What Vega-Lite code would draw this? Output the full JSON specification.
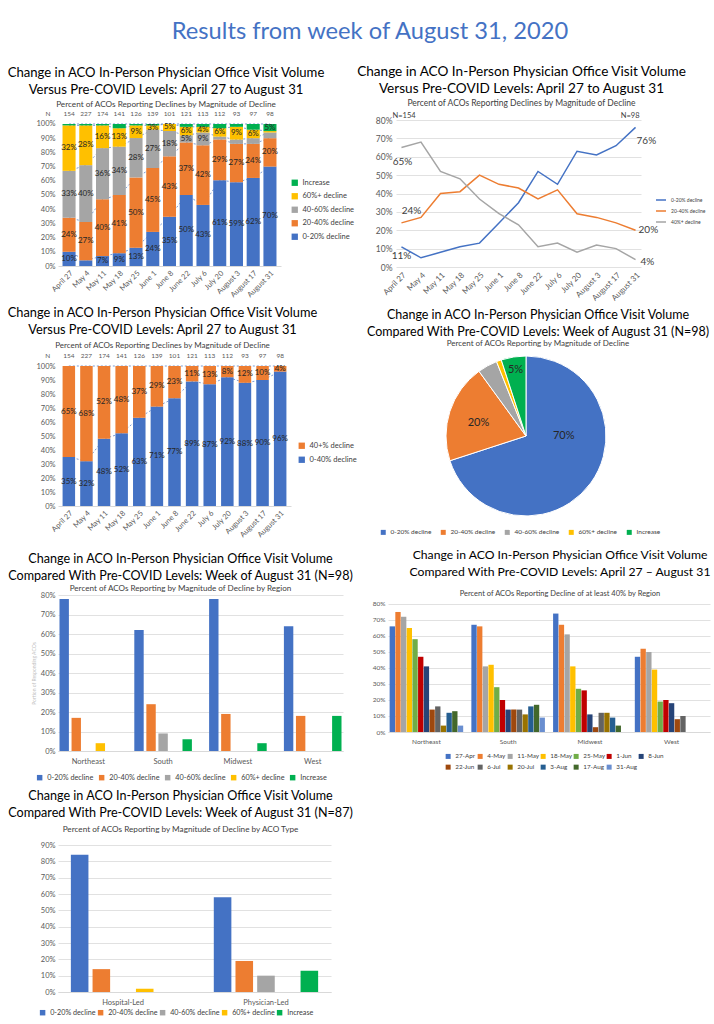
{
"$schema": "https://vega.github.io/schema/vega-lite/v6.json",
"padding": {"left": 7, "top": 19, "right": 0, "bottom": 0},
"background": "white",
"title": {"text": "Results from week of August 31, 2020", "fontSize": 23.7, "color": "#4472C4", "font": "Lato", "fontWeight": "normal", "anchor": "middle", "frame": "bounds", "offset": 21, "dx": 11, "lineHeight": 26},
"datasets": {
"w5": [
{"week":"April 27","cat":"0-20% decline","v":10},{"week":"April 27","cat":"20-40% decline","v":24},{"week":"April 27","cat":"40-60% decline","v":33},{"week":"April 27","cat":"60%+ decline","v":32},{"week":"April 27","cat":"Increase","v":1},
{"week":"May 4","cat":"0-20% decline","v":4},{"week":"May 4","cat":"20-40% decline","v":27},{"week":"May 4","cat":"40-60% decline","v":40},{"week":"May 4","cat":"60%+ decline","v":28},{"week":"May 4","cat":"Increase","v":1},
{"week":"May 11","cat":"0-20% decline","v":7},{"week":"May 11","cat":"20-40% decline","v":40},{"week":"May 11","cat":"40-60% decline","v":36},{"week":"May 11","cat":"60%+ decline","v":16},{"week":"May 11","cat":"Increase","v":1},
{"week":"May 18","cat":"0-20% decline","v":9},{"week":"May 18","cat":"20-40% decline","v":41},{"week":"May 18","cat":"40-60% decline","v":34},{"week":"May 18","cat":"60%+ decline","v":13},{"week":"May 18","cat":"Increase","v":3},
{"week":"May 25","cat":"0-20% decline","v":13},{"week":"May 25","cat":"20-40% decline","v":50},{"week":"May 25","cat":"40-60% decline","v":28},{"week":"May 25","cat":"60%+ decline","v":9},{"week":"May 25","cat":"Increase","v":1},
{"week":"June 1","cat":"0-20% decline","v":24},{"week":"June 1","cat":"20-40% decline","v":45},{"week":"June 1","cat":"40-60% decline","v":27},{"week":"June 1","cat":"60%+ decline","v":3},{"week":"June 1","cat":"Increase","v":1},
{"week":"June 8","cat":"0-20% decline","v":35},{"week":"June 8","cat":"20-40% decline","v":43},{"week":"June 8","cat":"40-60% decline","v":18},{"week":"June 8","cat":"60%+ decline","v":5},{"week":"June 8","cat":"Increase","v":0},
{"week":"June 22","cat":"0-20% decline","v":50},{"week":"June 22","cat":"20-40% decline","v":37},{"week":"June 22","cat":"40-60% decline","v":5},{"week":"June 22","cat":"60%+ decline","v":6},{"week":"June 22","cat":"Increase","v":2},
{"week":"July 6","cat":"0-20% decline","v":43},{"week":"July 6","cat":"20-40% decline","v":42},{"week":"July 6","cat":"40-60% decline","v":9},{"week":"July 6","cat":"60%+ decline","v":4},{"week":"July 6","cat":"Increase","v":2},
{"week":"July 20","cat":"0-20% decline","v":61},{"week":"July 20","cat":"20-40% decline","v":29},{"week":"July 20","cat":"40-60% decline","v":2},{"week":"July 20","cat":"60%+ decline","v":6},{"week":"July 20","cat":"Increase","v":3},
{"week":"August 3","cat":"0-20% decline","v":59},{"week":"August 3","cat":"20-40% decline","v":27},{"week":"August 3","cat":"40-60% decline","v":3},{"week":"August 3","cat":"60%+ decline","v":9},{"week":"August 3","cat":"Increase","v":2},
{"week":"August 17","cat":"0-20% decline","v":62},{"week":"August 17","cat":"20-40% decline","v":24},{"week":"August 17","cat":"40-60% decline","v":4},{"week":"August 17","cat":"60%+ decline","v":6},{"week":"August 17","cat":"Increase","v":4},
{"week":"August 31","cat":"0-20% decline","v":70},{"week":"August 31","cat":"20-40% decline","v":20},{"week":"August 31","cat":"40-60% decline","v":4},{"week":"August 31","cat":"60%+ decline","v":1},{"week":"August 31","cat":"Increase","v":5}
],
"n13": [
{"week":"April 27","n":154},{"week":"May 4","n":227},{"week":"May 11","n":174},{"week":"May 18","n":141},{"week":"May 25","n":126},{"week":"June 1","n":139},{"week":"June 8","n":101},{"week":"June 22","n":121},{"week":"July 6","n":113},{"week":"July 20","n":112},{"week":"August 3","n":93},{"week":"August 17","n":97},{"week":"August 31","n":98}
],
"trend": [
{"week":"April 27","s":"0-20% decline","v":11},{"week":"May 4","s":"0-20% decline","v":5},{"week":"May 11","s":"0-20% decline","v":8},{"week":"May 18","s":"0-20% decline","v":11},{"week":"May 25","s":"0-20% decline","v":13},{"week":"June 1","s":"0-20% decline","v":24},{"week":"June 8","s":"0-20% decline","v":35},{"week":"June 22","s":"0-20% decline","v":52},{"week":"July 6","s":"0-20% decline","v":45},{"week":"July 20","s":"0-20% decline","v":63},{"week":"August 3","s":"0-20% decline","v":61},{"week":"August 17","s":"0-20% decline","v":66},{"week":"August 31","s":"0-20% decline","v":76},
{"week":"April 27","s":"20-40% decline","v":24},{"week":"May 4","s":"20-40% decline","v":27},{"week":"May 11","s":"20-40% decline","v":40},{"week":"May 18","s":"20-40% decline","v":41},{"week":"May 25","s":"20-40% decline","v":50},{"week":"June 1","s":"20-40% decline","v":45},{"week":"June 8","s":"20-40% decline","v":43},{"week":"June 22","s":"20-40% decline","v":37},{"week":"July 6","s":"20-40% decline","v":42},{"week":"July 20","s":"20-40% decline","v":29},{"week":"August 3","s":"20-40% decline","v":27},{"week":"August 17","s":"20-40% decline","v":24},{"week":"August 31","s":"20-40% decline","v":20},
{"week":"April 27","s":"40%+ decline","v":65},{"week":"May 4","s":"40%+ decline","v":68},{"week":"May 11","s":"40%+ decline","v":52},{"week":"May 18","s":"40%+ decline","v":48},{"week":"May 25","s":"40%+ decline","v":37},{"week":"June 1","s":"40%+ decline","v":29},{"week":"June 8","s":"40%+ decline","v":23},{"week":"June 22","s":"40%+ decline","v":11},{"week":"July 6","s":"40%+ decline","v":13},{"week":"July 20","s":"40%+ decline","v":8},{"week":"August 3","s":"40%+ decline","v":12},{"week":"August 17","s":"40%+ decline","v":10},{"week":"August 31","s":"40%+ decline","v":4}
],
"w2": [
{"week":"April 27","cat":"0-40% decline","v":35},{"week":"April 27","cat":"40+% decline","v":65},
{"week":"May 4","cat":"0-40% decline","v":32},{"week":"May 4","cat":"40+% decline","v":68},
{"week":"May 11","cat":"0-40% decline","v":48},{"week":"May 11","cat":"40+% decline","v":52},
{"week":"May 18","cat":"0-40% decline","v":52},{"week":"May 18","cat":"40+% decline","v":48},
{"week":"May 25","cat":"0-40% decline","v":63},{"week":"May 25","cat":"40+% decline","v":37},
{"week":"June 1","cat":"0-40% decline","v":71},{"week":"June 1","cat":"40+% decline","v":29},
{"week":"June 8","cat":"0-40% decline","v":77},{"week":"June 8","cat":"40+% decline","v":23},
{"week":"June 22","cat":"0-40% decline","v":89},{"week":"June 22","cat":"40+% decline","v":11},
{"week":"July 6","cat":"0-40% decline","v":87},{"week":"July 6","cat":"40+% decline","v":13},
{"week":"July 20","cat":"0-40% decline","v":92},{"week":"July 20","cat":"40+% decline","v":8},
{"week":"August 3","cat":"0-40% decline","v":88},{"week":"August 3","cat":"40+% decline","v":12},
{"week":"August 17","cat":"0-40% decline","v":90},{"week":"August 17","cat":"40+% decline","v":10},
{"week":"August 31","cat":"0-40% decline","v":96},{"week":"August 31","cat":"40+% decline","v":4}
],
"pie": [
{"cat":"0-20% decline","v":70},{"cat":"20-40% decline","v":20},{"cat":"40-60% decline","v":4},{"cat":"60%+ decline","v":1},{"cat":"Increase","v":5}
],
"region": [
{"region":"Northeast","cat":"0-20% decline","v":78},{"region":"Northeast","cat":"20-40% decline","v":17},{"region":"Northeast","cat":"40-60% decline","v":0},{"region":"Northeast","cat":"60%+ decline","v":4},{"region":"Northeast","cat":"Increase","v":0},
{"region":"South","cat":"0-20% decline","v":62},{"region":"South","cat":"20-40% decline","v":24},{"region":"South","cat":"40-60% decline","v":9},{"region":"South","cat":"60%+ decline","v":0},{"region":"South","cat":"Increase","v":6},
{"region":"Midwest","cat":"0-20% decline","v":78},{"region":"Midwest","cat":"20-40% decline","v":19},{"region":"Midwest","cat":"40-60% decline","v":0},{"region":"Midwest","cat":"60%+ decline","v":0},{"region":"Midwest","cat":"Increase","v":4},
{"region":"West","cat":"0-20% decline","v":64},{"region":"West","cat":"20-40% decline","v":18},{"region":"West","cat":"40-60% decline","v":0},{"region":"West","cat":"60%+ decline","v":0},{"region":"West","cat":"Increase","v":18}
],
"regweek": [
{"region":"Northeast","week":"27-Apr","v":66},{"region":"Northeast","week":"4-May","v":75},{"region":"Northeast","week":"11-May","v":72},{"region":"Northeast","week":"18-May","v":65},{"region":"Northeast","week":"25-May","v":58},{"region":"Northeast","week":"1-Jun","v":47},{"region":"Northeast","week":"8-Jun","v":41},{"region":"Northeast","week":"22-Jun","v":14},{"region":"Northeast","week":"6-Jul","v":16},{"region":"Northeast","week":"20-Jul","v":4},{"region":"Northeast","week":"3-Aug","v":12},{"region":"Northeast","week":"17-Aug","v":13},{"region":"Northeast","week":"31-Aug","v":4},
{"region":"South","week":"27-Apr","v":67},{"region":"South","week":"4-May","v":66},{"region":"South","week":"11-May","v":41},{"region":"South","week":"18-May","v":42},{"region":"South","week":"25-May","v":28},{"region":"South","week":"1-Jun","v":20},{"region":"South","week":"8-Jun","v":14},{"region":"South","week":"22-Jun","v":14},{"region":"South","week":"6-Jul","v":14},{"region":"South","week":"20-Jul","v":11},{"region":"South","week":"3-Aug","v":16},{"region":"South","week":"17-Aug","v":17},{"region":"South","week":"31-Aug","v":9},
{"region":"Midwest","week":"27-Apr","v":74},{"region":"Midwest","week":"4-May","v":67},{"region":"Midwest","week":"11-May","v":61},{"region":"Midwest","week":"18-May","v":41},{"region":"Midwest","week":"25-May","v":27},{"region":"Midwest","week":"1-Jun","v":26},{"region":"Midwest","week":"8-Jun","v":11},{"region":"Midwest","week":"22-Jun","v":3},{"region":"Midwest","week":"6-Jul","v":12},{"region":"Midwest","week":"20-Jul","v":12},{"region":"Midwest","week":"3-Aug","v":9},{"region":"Midwest","week":"17-Aug","v":4},{"region":"Midwest","week":"31-Aug","v":0},
{"region":"West","week":"27-Apr","v":47},{"region":"West","week":"4-May","v":52},{"region":"West","week":"11-May","v":50},{"region":"West","week":"18-May","v":39},{"region":"West","week":"25-May","v":19},{"region":"West","week":"1-Jun","v":20},{"region":"West","week":"8-Jun","v":18},{"region":"West","week":"22-Jun","v":8},{"region":"West","week":"6-Jul","v":10}
],
"acotype": [
{"type":"Hospital-Led","cat":"0-20% decline","v":84},{"type":"Hospital-Led","cat":"20-40% decline","v":14},{"type":"Hospital-Led","cat":"40-60% decline","v":0},{"type":"Hospital-Led","cat":"60%+ decline","v":2},{"type":"Hospital-Led","cat":"Increase","v":0},
{"type":"Physician-Led","cat":"0-20% decline","v":58},{"type":"Physician-Led","cat":"20-40% decline","v":19},{"type":"Physician-Led","cat":"40-60% decline","v":10},{"type":"Physician-Led","cat":"60%+ decline","v":0},{"type":"Physician-Led","cat":"Increase","v":13}
]
},
"spacing": 4,
"resolve": {"scale": {"x": "independent", "y": "independent", "color": "independent", "xOffset": "independent", "theta": "independent"}, "legend": {"color": "independent"}},
"vconcat": [
{
"spacing": 1,
"resolve": {"scale": {"x": "independent", "y": "independent", "color": "independent", "xOffset": "independent", "theta": "independent"}, "legend": {"color": "independent"}},
"hconcat": [
{
"width": 223, "height": 146,
"title": {"text": ["Change in ACO In-Person Physician Office Visit Volume", "Versus Pre-COVID Levels: April 27 to August 31"], "subtitle": "Percent of ACOs Reporting Declines by Magnitude of Decline", "fontSize": 13.1, "subtitleFontSize": 8.2, "subtitlePadding": 4, "dx": -3.5, "offset": 3},
"data": {"name": "w5"},
"transform": [
{"calculate": "indexof(['0-20% decline','20-40% decline','40-60% decline','60%+ decline','Increase'], datum.cat)", "as": "k"},
{"joinaggregate": [{"op": "sum", "field": "v", "as": "tot"}], "groupby": ["week"]},
{"window": [{"op": "sum", "field": "v", "as": "cum"}], "groupby": ["week"], "sort": [{"field": "k", "order": "ascending"}], "frame": [null, 0]},
{"calculate": "datum.cum / datum.tot", "as": "top"},
{"calculate": "(datum.cum - datum.v) / datum.tot", "as": "bot"},
{"calculate": "(datum.cum - datum.v / 2) / datum.tot", "as": "mid"},
{"calculate": "datum.v + '%'", "as": "lbl"},
{"lookup": "week", "from": {"data": {"name": "n13"}, "key": "week", "fields": ["n"]}}
],
"encoding": {
"x": {"field": "week", "type": "nominal", "sort": ["April 27","May 4","May 11","May 18","May 25","June 1","June 8","June 22","July 6","July 20","August 3","August 17","August 31"], "title": null, "scale": {"paddingInner": 0.22, "paddingOuter": 0.27}, "axis": {"labelAngle": -45, "labelFontSize": 7.5, "labelPadding": 3, "domainColor": "#D9D9D9"}},
"y": {"field": "yv", "type": "quantitative", "title": null, "scale": {"domain": [0, 1.028]}, "axis": {"format": ".0%", "values": [0,0.1,0.2,0.3,0.4,0.5,0.6,0.7,0.8,0.9,1], "grid": false, "labelFontSize": 7.5, "labelOverlap": false}}
},
"layer": [
{"transform": [{"calculate": "datum.top", "as": "yv"}],
 "mark": {"type": "line", "color": "#4472C4", "strokeWidth": 0.7, "strokeDash": [2, 2]},
 "encoding": {"detail": {"field": "cat"}}},
{"transform": [{"calculate": "datum.bot", "as": "yv"}],
 "mark": {"type": "bar"},
 "encoding": {"y2": {"field": "top"},
  "color": {"field": "cat", "type": "nominal", "scale": {"domain": ["Increase","60%+ decline","40-60% decline","20-40% decline","0-20% decline"], "range": ["#00B050","#FFC000","#A5A5A5","#ED7D31","#4472C4"]}, "legend": {"title": null, "orient": "none", "legendX": 233, "legendY": 59, "labelFontSize": 7.5, "symbolSize": 40, "rowPadding": 4.5}}}},
{"transform": [{"filter": "datum.v >= 5 || (datum.cat == '60%+ decline' && datum.v >= 3)"}, {"calculate": "datum.mid", "as": "yv"}],
 "mark": {"type": "text", "fontSize": 8, "color": "#262626"},
 "encoding": {"text": {"field": "lbl"}}},
{"transform": [{"filter": "datum.cat == 'Increase'"}, {"calculate": "1.07", "as": "yv"}],
 "mark": {"type": "text", "fontSize": 6.5, "color": "#595959"},
 "encoding": {"text": {"field": "n"}}},
{"transform": [{"filter": "datum.cat == 'Increase' && datum.week == 'April 27'"}, {"calculate": "1.07", "as": "yv"}, {"calculate": "'N'", "as": "nlab"}],
 "mark": {"type": "text", "fontSize": 6.5, "color": "#595959", "dx": -21},
 "encoding": {"text": {"field": "nlab"}}}
]
},
{
"width": 245, "height": 147,
"title": {"text": ["Change in ACO In-Person Physician Office Visit Volume", "Versus Pre-COVID Levels: April 27 to August 31"], "subtitle": "Percent of ACOs Reporting Declines by Magnitude of Decline", "fontSize": 13.6, "subtitleFontSize": 8.5, "subtitlePadding": 4, "dx": 3, "offset": 4},
"data": {"name": "trend"},
"transform": [
{"calculate": "datum.v + '%'", "as": "lbl"},
{"lookup": "week", "from": {"data": {"name": "n13"}, "key": "week", "fields": ["n"]}},
{"calculate": "'N=' + datum.n", "as": "nl"}
],
"encoding": {"x": {"field": "week", "type": "ordinal", "sort": ["April 27","May 4","May 11","May 18","May 25","June 1","June 8","June 22","July 6","July 20","August 3","August 17","August 31"], "title": null, "scale": {"type": "point", "padding": 0.28}, "axis": {"labelAngle": -45, "labelFontSize": 8, "labelPadding": 4, "domain": false}},
 "y": {"field": "v", "type": "quantitative", "title": null, "scale": {"domain": [0, 80]}, "axis": {"values": [0,10,20,30,40,50,60,70,80], "labelExpr": "datum.value + '%'", "grid": true, "labelFontSize": 8.5, "labelPadding": 4, "labelOverlap": false}}},
"layer": [
{"mark": {"type": "line", "strokeWidth": 1.5},
 "encoding": {"color": {"field": "s", "type": "nominal", "scale": {"domain": ["0-20% decline","20-40% decline","40%+ decline"], "range": ["#4472C4","#ED7D31","#A5A5A5"]}, "legend": {"title": null, "orient": "none", "legendX": 259, "legendY": 74, "labelFontSize": 5, "symbolType": "stroke", "symbolSize": 100, "symbolStrokeWidth": 1.5, "rowPadding": 2}}}},
{"transform": [{"filter": "datum.week == 'April 27' && datum.s == '40%+ decline'"}], "mark": {"type": "text", "fontSize": 10, "color": "#404040", "dx": 1, "dy": 14}, "encoding": {"text": {"field": "lbl"}}},
{"transform": [{"filter": "datum.week == 'April 27' && datum.s == '20-40% decline'"}], "mark": {"type": "text", "fontSize": 10, "color": "#404040", "dx": 10, "dy": -12}, "encoding": {"text": {"field": "lbl"}}},
{"transform": [{"filter": "datum.week == 'April 27' && datum.s == '0-20% decline'"}], "mark": {"type": "text", "fontSize": 10, "color": "#404040", "dx": 0, "dy": 9}, "encoding": {"text": {"field": "lbl"}}},
{"transform": [{"filter": "datum.week == 'August 31' && datum.s == '0-20% decline'"}], "mark": {"type": "text", "fontSize": 10, "color": "#404040", "align": "left", "dx": 1, "dy": 14}, "encoding": {"text": {"field": "lbl"}}},
{"transform": [{"filter": "datum.week == 'August 31' && datum.s == '20-40% decline'"}], "mark": {"type": "text", "fontSize": 10, "color": "#404040", "align": "left", "dx": 3, "dy": 0}, "encoding": {"text": {"field": "lbl"}}},
{"transform": [{"filter": "datum.week == 'August 31' && datum.s == '40%+ decline'"}], "mark": {"type": "text", "fontSize": 10, "color": "#404040", "align": "left", "dx": 5, "dy": 2}, "encoding": {"text": {"field": "lbl"}}},
{"transform": [{"filter": "datum.week == 'April 27' && datum.s == '40%+ decline'"}, {"calculate": "82.3", "as": "v"}], "mark": {"type": "text", "fontSize": 7.5, "color": "#404040", "align": "left", "dx": -9}, "encoding": {"text": {"field": "nl"}}},
{"transform": [{"filter": "datum.week == 'August 31' && datum.s == '40%+ decline'"}, {"calculate": "82.3", "as": "v"}], "mark": {"type": "text", "fontSize": 7.5, "color": "#404040", "align": "right", "dx": 4}, "encoding": {"text": {"field": "nl"}}}
]
}
]
},
{
"spacing": 10,
"resolve": {"scale": {"x": "independent", "y": "independent", "color": "independent", "xOffset": "independent", "theta": "independent"}, "legend": {"color": "independent"}},
"vconcat": [
{
"spacing": 9,
"resolve": {"scale": {"x": "independent", "y": "independent", "color": "independent", "xOffset": "independent", "theta": "independent"}, "legend": {"color": "independent"}},
"hconcat": [
{
"width": 233, "height": 140,
"title": {"text": ["Change in ACO In-Person Physician Office Visit Volume", "Versus Pre-COVID Levels: April 27 to August 31"], "subtitle": "Percent of ACOs Reporting Declines by Magnitude of Decline", "fontSize": 12.8, "subtitleFontSize": 8, "subtitlePadding": 5, "dx": -12, "offset": 3},
"data": {"name": "w2"},
"transform": [
{"calculate": "indexof(['0-40% decline','40+% decline'], datum.cat)", "as": "k"},
{"joinaggregate": [{"op": "sum", "field": "v", "as": "tot"}], "groupby": ["week"]},
{"window": [{"op": "sum", "field": "v", "as": "cum"}], "groupby": ["week"], "sort": [{"field": "k", "order": "ascending"}], "frame": [null, 0]},
{"calculate": "datum.cum / datum.tot", "as": "top"},
{"calculate": "(datum.cum - datum.v) / datum.tot", "as": "bot"},
{"calculate": "(datum.cum - datum.v / 2) / datum.tot", "as": "mid"},
{"calculate": "datum.v + '%'", "as": "lbl"},
{"lookup": "week", "from": {"data": {"name": "n13"}, "key": "week", "fields": ["n"]}}
],
"encoding": {
"x": {"field": "week", "type": "nominal", "sort": ["April 27","May 4","May 11","May 18","May 25","June 1","June 8","June 22","July 6","July 20","August 3","August 17","August 31"], "title": null, "scale": {"paddingInner": 0.29, "paddingOuter": 0.26}, "axis": {"labelAngle": -45, "labelFontSize": 7.5, "labelPadding": 3, "domainColor": "#D9D9D9"}},
"y": {"field": "yv", "type": "quantitative", "title": null, "scale": {"domain": [0, 1]}, "axis": {"format": ".0%", "values": [0,0.1,0.2,0.3,0.4,0.5,0.6,0.7,0.8,0.9,1], "grid": false, "labelFontSize": 7.5, "labelOverlap": false}}
},
"layer": [
{"transform": [{"calculate": "datum.top", "as": "yv"}],
 "mark": {"type": "line", "color": "#4472C4", "strokeWidth": 0.7, "strokeDash": [2, 2]},
 "encoding": {"detail": {"field": "cat"}}},
{"transform": [{"calculate": "datum.bot", "as": "yv"}],
 "mark": {"type": "bar"},
 "encoding": {"y2": {"field": "top"},
  "color": {"field": "cat", "type": "nominal", "scale": {"domain": ["40+% decline","0-40% decline"], "range": ["#ED7D31","#4472C4"]}, "legend": {"title": null, "orient": "none", "legendX": 240, "legendY": 76, "labelFontSize": 7.5, "symbolSize": 40, "rowPadding": 5}}}},
{"transform": [{"calculate": "datum.mid", "as": "yv"}],
 "mark": {"type": "text", "fontSize": 8, "color": "#262626"},
 "encoding": {"text": {"field": "lbl"}}},
{"transform": [{"filter": "datum.cat == '40+% decline'"}, {"calculate": "1.071", "as": "yv"}],
 "mark": {"type": "text", "fontSize": 6.5, "color": "#595959"},
 "encoding": {"text": {"field": "n"}}},
{"transform": [{"filter": "datum.cat == '40+% decline' && datum.week == 'April 27'"}, {"calculate": "1.071", "as": "yv"}, {"calculate": "'N'", "as": "nlab"}],
 "mark": {"type": "text", "fontSize": 6.5, "color": "#595959", "dx": -21},
 "encoding": {"text": {"field": "nlab"}}}
]
},
{
"width": 160, "height": 140,
"title": {"text": ["Change in ACO In-Person Physician Office Visit Volume", "Compared With Pre-COVID Levels: Week of August 31 (N=98)"], "subtitle": "Percent of ACOs Reporting by Magnitude of Decline", "fontSize": 12.5, "subtitleFontSize": 8, "subtitlePadding": 2, "dx": 12, "offset": 6},
"data": {"name": "pie"},
"transform": [
{"calculate": "indexof(['0-20% decline','20-40% decline','40-60% decline','60%+ decline','Increase'], datum.cat)", "as": "k"},
{"calculate": "datum.v + '%'", "as": "lbl"}
],
"encoding": {"theta": {"field": "v", "type": "quantitative", "stack": true}, "order": {"field": "k", "type": "quantitative"}},
"layer": [
{"mark": {"type": "arc", "stroke": "white", "strokeWidth": 1, "outerRadius": 80},
 "encoding": {"color": {"field": "cat", "type": "nominal", "scale": {"domain": ["0-20% decline","20-40% decline","40-60% decline","60%+ decline","Increase"], "range": ["#4472C4","#ED7D31","#A5A5A5","#FFC000","#00B050"]}, "legend": {"title": null, "orient": "none", "direction": "horizontal", "legendX": -66, "legendY": 163, "labelFontSize": 6.5, "symbolSize": 25, "columnPadding": 8}}}},
{"mark": {"type": "text", "radius": 38, "dx": 7, "dy": -22, "fontSize": 11, "color": "#262626"},
 "encoding": {"detail": {"field": "cat"}, "text": {"condition": {"test": "datum.cat == '0-20% decline'", "field": "lbl"}, "value": ""}}},
{"mark": {"type": "text", "radius": 50, "dx": 0, "dy": 2, "fontSize": 11, "color": "#262626"},
 "encoding": {"detail": {"field": "cat"}, "text": {"condition": {"test": "datum.cat == '20-40% decline'", "field": "lbl"}, "value": ""}}},
{"mark": {"type": "text", "radius": 67, "fontSize": 11, "color": "#262626"},
 "encoding": {"detail": {"field": "cat"}, "text": {"condition": {"test": "datum.cat == 'Increase'", "field": "lbl"}, "value": ""}}}
]
}
]
},
{
"spacing": 9,
"resolve": {"scale": {"x": "independent", "y": "independent", "color": "independent", "xOffset": "independent", "theta": "independent"}, "legend": {"color": "independent"}},
"vconcat": [
{
"spacing": 18,
"resolve": {"scale": {"x": "independent", "y": "independent", "color": "independent", "xOffset": "independent", "theta": "independent"}, "legend": {"color": "independent"}},
"hconcat": [
{
"width": 285, "height": 156,
"title": {"text": ["Change in ACO In-Person Physician Office Visit Volume", "Compared With Pre-COVID Levels: Week of August 31 (N=98)"], "subtitle": "Percent of ACOs Reporting by Magnitude of Decline by Region", "fontSize": 12.6, "subtitleFontSize": 8.1, "subtitlePadding": 2, "dx": -20, "offset": -2},
"data": {"name": "region"},
"mark": {"type": "bar"},
"encoding": {
"x": {"field": "region", "type": "nominal", "sort": ["Northeast","South","Midwest","West"], "title": null, "scale": {"paddingInner": 0.23, "paddingOuter": 0.02}, "axis": {"labelAngle": 0, "labelFontSize": 7.5, "labelPadding": 6, "domainColor": "#D9D9D9"}},
"xOffset": {"field": "cat", "type": "nominal", "sort": ["0-20% decline","20-40% decline","40-60% decline","60%+ decline","Increase"], "scale": {"paddingInner": 0.22}},
"y": {"field": "v", "type": "quantitative", "title": "Portion of Responding ACOs", "scale": {"domain": [0, 80]}, "axis": {"values": [0,10,20,30,40,50,60,70,80], "labelExpr": "datum.value + '%'", "labelFontSize": 7.5, "labelOverlap": false, "titleFontSize": 5, "titleColor": "#BFBFBF", "titleFontWeight": "normal", "titlePadding": 4}},
"color": {"field": "cat", "type": "nominal", "scale": {"domain": ["0-20% decline","20-40% decline","40-60% decline","60%+ decline","Increase"], "range": ["#4472C4","#ED7D31","#A5A5A5","#FFC000","#00B050"]}, "legend": {"title": null, "orient": "none", "direction": "horizontal", "legendX": -22, "legendY": 179, "labelFontSize": 7.3, "symbolSize": 30, "columnPadding": 4}}
}
},
{
"width": 322, "height": 137,
"title": {"text": ["Change in ACO In-Person Physician Office Visit Volume", "Compared With Pre-COVID Levels: April 27 – August 31"], "subtitle": "Percent of ACOs Reporting Decline of at least 40% by Region", "fontSize": 12.2, "subtitleFontSize": 7.5, "subtitlePadding": 11, "dx": 11, "offset": -2},
"data": {"name": "regweek"},
"mark": {"type": "bar"},
"encoding": {
"x": {"field": "region", "type": "nominal", "sort": ["Northeast","South","Midwest","West"], "title": null, "scale": {"paddingInner": 0.1, "paddingOuter": 0.02}, "axis": {"labelAngle": 0, "labelFontSize": 6.5, "labelPadding": 6, "domainColor": "#D9D9D9"}},
"xOffset": {"field": "week", "type": "nominal", "sort": ["27-Apr","4-May","11-May","18-May","25-May","1-Jun","8-Jun","22-Jun","6-Jul","20-Jul","3-Aug","17-Aug","31-Aug"], "scale": {"paddingInner": 0.06}},
"y": {"field": "v", "type": "quantitative", "title": null, "scale": {"domain": [0, 85.6]}, "axis": {"values": [0,10,20,30,40,50,60,70,80], "labelExpr": "datum.value + '%'", "labelFontSize": 6.5, "labelOverlap": false}},
"color": {"field": "week", "type": "nominal", "scale": {"domain": ["27-Apr","4-May","11-May","18-May","25-May","1-Jun","8-Jun","22-Jun","6-Jul","20-Jul","3-Aug","17-Aug","31-Aug"], "range": ["#4472C4","#ED7D31","#A5A5A5","#FFC000","#70AD47","#C00000","#264478","#9E480E","#636363","#997300","#255E91","#43682B","#698ED0"]}, "legend": {"title": null, "orient": "none", "direction": "horizontal", "columns": 7, "legendX": 57, "legendY": 158, "labelFontSize": 6.3, "symbolSize": 25, "rowPadding": 4, "columnPadding": 1}}
}
}
]
},
{
"width": 273, "height": 147,
"title": {"text": ["Change in ACO In-Person Physician Office Visit Volume", "Compared With Pre-COVID Levels: Week of August 31 (N=87)"], "subtitle": "Percent of ACOs Reporting by Magnitude of Decline by ACO Type", "fontSize": 12.6, "subtitleFontSize": 8.2, "subtitlePadding": 6, "dx": -14, "offset": 8},
"data": {"name": "acotype"},
"mark": {"type": "bar"},
"encoding": {
"x": {"field": "type", "type": "nominal", "sort": ["Hospital-Led","Physician-Led"], "title": null, "scale": {"paddingInner": 0.27, "paddingOuter": 0.09}, "axis": {"labelAngle": 0, "labelFontSize": 7.5, "labelPadding": 6, "domainColor": "#D9D9D9"}},
"xOffset": {"field": "cat", "type": "nominal", "sort": ["0-20% decline","20-40% decline","40-60% decline","60%+ decline","Increase"], "scale": {"paddingInner": 0.19}},
"y": {"field": "v", "type": "quantitative", "title": null, "scale": {"domain": [0, 90]}, "axis": {"values": [0,10,20,30,40,50,60,70,80,90], "labelExpr": "datum.value + '%'", "labelFontSize": 7.5, "labelOverlap": false}},
"color": {"field": "cat", "type": "nominal", "scale": {"domain": ["0-20% decline","20-40% decline","40-60% decline","60%+ decline","Increase"], "range": ["#4472C4","#ED7D31","#A5A5A5","#FFC000","#00B050"]}, "legend": {"title": null, "orient": "none", "direction": "horizontal", "legendX": -19, "legendY": 164, "labelFontSize": 7.2, "symbolSize": 30, "columnPadding": 1}}
}
}
]
}
]
}
],
"config": {
"font": "Lato",
"view": {"stroke": null},
"title": {"font": "Lato", "fontWeight": "normal", "color": "#000000", "lineHeight": 17, "subtitleFont": "Lato", "subtitleColor": "#404040", "subtitlePadding": 5, "anchor": "middle", "frame": "group"},
"axis": {"labelFont": "Lato", "labelColor": "#595959", "ticks": false, "domainColor": "#D9D9D9", "gridColor": "#D9D9D9", "gridWidth": 0.8, "labelPadding": 3, "titleFont": "Lato", "labelOverlap": false},
"axisY": {"domain": false},
"legend": {"labelFont": "Lato", "labelColor": "#404040", "symbolType": "square", "symbolStrokeWidth": 0},
"text": {"font": "Lato"}
}
}
